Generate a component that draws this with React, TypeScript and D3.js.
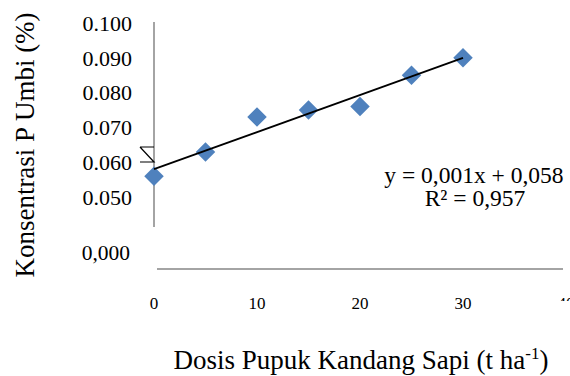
import React from "react";
import * as d3 from "d3";

const doses = [0, 5, 10, 15, 20, 25, 30];
const pConc = [0.056, 0.063, 0.073, 0.075, 0.076, 0.085, 0.09];
const yTicks = [0.05, 0.06, 0.07, 0.08, 0.09, 0.1];
const xTicks = [0, 10, 20, 30, 40];

const W = 570;
const H = 376;
const serif = { fontFamily: "'Liberation Serif', serif" };

function fit(xs: number[], ys: number[]) {
  const mx = d3.mean(xs)!;
  const my = d3.mean(ys)!;
  let sxy = 0;
  let sxx = 0;
  xs.forEach((x, i) => {
    sxy += (x - mx) * (ys[i] - my);
    sxx += (x - mx) * (x - mx);
  });
  const b = sxy / sxx;
  return { a: my - b * mx, b };
}

export default function App() {
  const x = d3.scaleLinear().domain([0, 40]).range([154, 566]);
  const y = d3.scaleLinear().domain([0.04, 0.1]).range([232, 23]);
  const { a, b } = fit(doses, pConc);
  const trend = d3.line<number>()
    .x((d) => x(d))
    .y((d) => y(a + b * d));
  const diamond = d3.symbol().type(d3.symbolSquare).size(190)();

  const x0 = x(0);
  const yb = 147;

  return (
    <svg
      width={W}
      height={H}
      style={{ position: "absolute", left: 0, top: 0, background: "#fff", ...serif }}
    >
      <defs>
        <clipPath id="cut40">
          <rect x={540} y={290} width={40} height={11} />
        </clipPath>
      </defs>

      {/* y axis (upper part) */}
      <line x1={x0} x2={x0} y1={22} y2={227} stroke="#868686" strokeWidth={1.5} />
      {yTicks.map((t) => (
        <text key={t} x={132} y={y(t)} dy="0.35em" textAnchor="end" fontSize={22} style={serif}>
          {d3.format(".3f")(t)}
        </text>
      ))}
      <text x={130} y={252} dy="0.35em" textAnchor="end" fontSize={21.5} style={serif}>0,000</text>

      {/* axis break mark */}
      <path
        d={`M${x0 - 14},${yb} H${x0} M${x0 - 14},${yb} L${x0},${yb + 15} H${x0 - 14}`}
        fill="none"
        stroke="#000"
        strokeWidth={1.2}
      />

      {/* x axis */}
      <line x1={157} x2={563} y1={269} y2={269} stroke="#868686" strokeWidth={1.5} />
      {xTicks.map((t) => (
        <text
          key={t}
          x={x(t)}
          y={303}
          dy="0.35em"
          textAnchor="middle"
          fontSize={17}
          style={serif}
          clipPath={t === 40 ? "url(#cut40)" : undefined}
        >
          {t}
        </text>
      ))}

      {/* markers */}
      {doses.map((d, i) => (
        <path
          key={d}
          d={diamond}
          transform={`translate(${x(d)},${y(pConc[i])}) rotate(45)`}
          fill="#4F81BD"
        />
      ))}

      {/* trendline */}
      <path d={trend([0, 30])!} fill="none" stroke="#000" strokeWidth={1.8} />

      <text x={474} y={175} dy="0.35em" textAnchor="middle" fontSize={23.5} style={serif}>
        y = 0,001x + 0,058
      </text>
      <text x={475} y={198} dy="0.35em" textAnchor="middle" fontSize={23.5} style={serif}>
        R² = 0,957
      </text>

      <text
        transform={`translate(25,145) rotate(-90)`}
        textAnchor="middle"
        dy="0.35em"
        fontSize={27}
        style={serif}
      >
        Konsentrasi P Umbi (%)
      </text>
      <text x={361} y={360} dy="0.35em" textAnchor="middle" fontSize={27} style={serif}>
        Dosis Pupuk Kandang Sapi (t ha
        <tspan dy="-10" fontSize={17}>-1</tspan>
        <tspan dy="10">)</tspan>
      </text>
    </svg>
  );
}
